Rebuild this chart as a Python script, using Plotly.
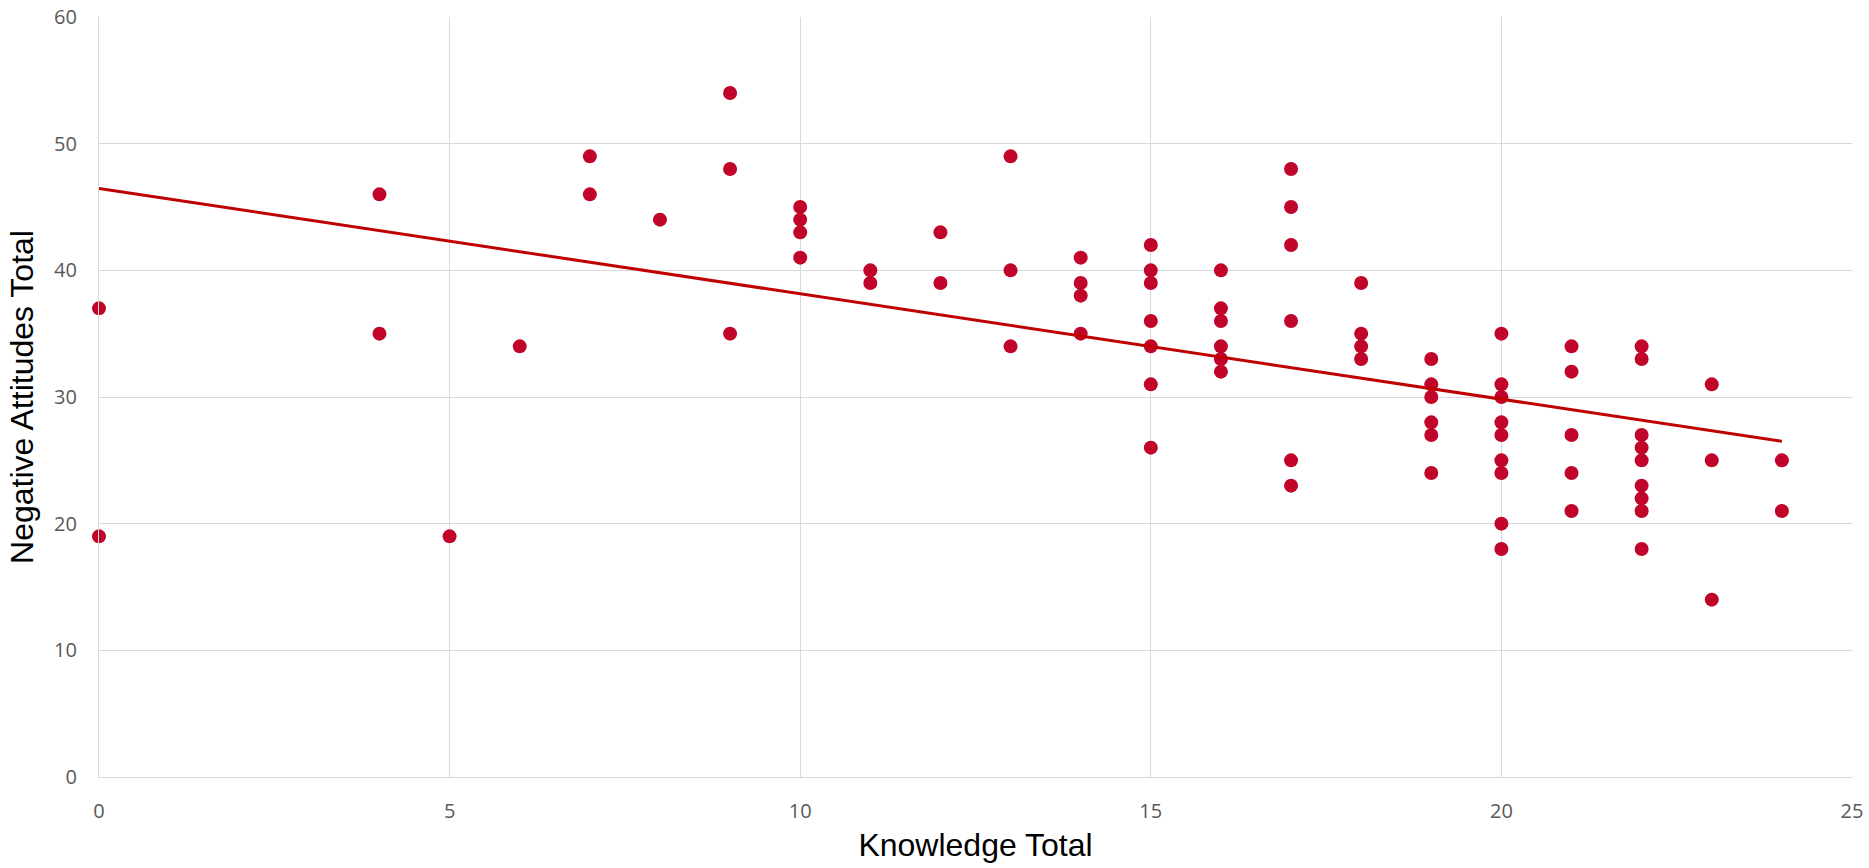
import numpy as np
import plotly.graph_objects as go

# Knowledge score and matching negative-attitude scores, grouped by knowledge value
knowledge_levels = [0, 4, 5, 6, 7, 8, 9, 10, 11, 12, 13, 14, 15, 16, 17, 18, 19, 20, 21, 22, 23, 24]
attitudes_by_level = [
    [37, 19],
    [46, 35],
    [19],
    [34],
    [49, 46],
    [44],
    [54, 48, 35],
    [45, 44, 43, 41],
    [40, 39],
    [43, 39],
    [49, 40, 34],
    [41, 39, 38, 35],
    [42, 40, 39, 36, 34, 31, 26],
    [40, 37, 36, 34, 33, 32],
    [48, 45, 42, 36, 25, 23],
    [39, 35, 34, 33],
    [33, 31, 30, 28, 27, 24],
    [35, 31, 30, 28, 27, 25, 24, 20, 18],
    [34, 32, 27, 24, 21],
    [34, 33, 27, 26, 25, 23, 22, 21, 18],
    [31, 25, 14],
    [25, 21],
]

x_ticks = [0, 5, 10, 15, 20, 25]
y_ticks = [0, 10, 20, 30, 40, 50, 60]

knowledge = []
attitudes = []
for k, vals in zip(knowledge_levels, attitudes_by_level):
    knowledge.extend([k] * len(vals))
    attitudes.extend(vals)
knowledge = np.array(knowledge, dtype=float)
attitudes = np.array(attitudes, dtype=float)

# Least-squares linear trend
slope, intercept = np.polyfit(knowledge, attitudes, 1)
trend_x = np.array([knowledge.min(), knowledge.max()])
trend_y = intercept + slope * trend_x

fig = go.Figure()
fig.add_trace(go.Scatter(
    x=knowledge, y=attitudes, mode="markers",
    marker=dict(color="#C0042A", size=14, line=dict(width=0)),
    showlegend=False, hoverinfo="x+y", cliponaxis=False,
))
fig.add_trace(go.Scatter(
    x=trend_x, y=trend_y, mode="lines",
    line=dict(color="#C00000", width=3),
    showlegend=False, hoverinfo="skip",
))

grid = "#D9D9D9"
tick_font = dict(family="Open Sans", size=20, color="#595959")
title_font = dict(family="Liberation Sans, Arial", size=32, color="#000000")

fig.update_layout(
    width=1869, height=868,
    margin=dict(l=99, r=17, t=17, b=91),
    paper_bgcolor="white", plot_bgcolor="white",
    xaxis=dict(
        range=[0, 25], tickvals=x_ticks, ticktext=[str(v) for v in x_ticks],
        showgrid=True, gridcolor=grid, gridwidth=1.3,
        zeroline=False, showline=True, linecolor=grid, linewidth=1.3,
        mirror=False, ticks="", tickfont=tick_font, automargin=False,
        ticklabelstandoff=16,
        title=dict(text="Knowledge Total", font=title_font, standoff=10),
    ),
    yaxis=dict(
        range=[0, 60], tickvals=y_ticks, ticktext=[str(v) for v in y_ticks],
        showgrid=True, gridcolor=grid, gridwidth=1.3,
        zeroline=False, showline=True, linecolor=grid, linewidth=1.3,
        ticks="", tickfont=tick_font, ticklabelstandoff=17, automargin=False,
        title=dict(text="Negative Attitudes Total", font=title_font, standoff=10),
    ),
)

fig.write_html("out.html")
